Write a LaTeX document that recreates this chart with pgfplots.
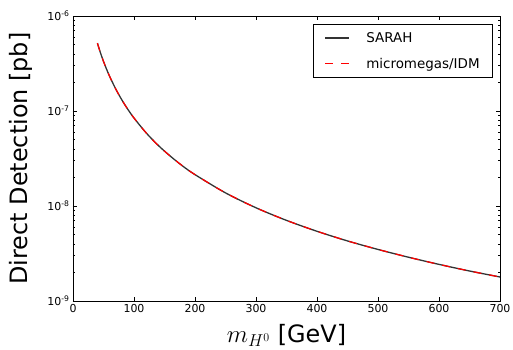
\documentclass[border=0pt]{standalone}
\usepackage{pgfplots}
\pgfplotsset{compat=1.18}
\usepackage{fontspec}
\setmainfont{DejaVu Sans}
\begin{document}
\begin{tikzpicture}
\begin{axis}[
  at={(0,0)}, anchor=south west,
  scale only axis, width=427bp, height=285bp,
  xmin=0, xmax=700, ymin=1e-9, ymax=1e-6, ymode=log,
  xtick={0,100,...,700},
  ytick={1e-9,1e-8,1e-7,1e-6},
  yticklabels={10\textsuperscript{-9},10\textsuperscript{-8},10\textsuperscript{-7},10\textsuperscript{-6}},
  /pgf/number format/assume math mode=true,
  tick label style={font=\fontsize{11}{13}\selectfont},
  tick align=inside,
  major tick length=4bp, minor tick length=2bp,
  axis line style={line width=0.9bp},
  every tick/.style={black, line width=0.6bp},
  xlabel={$m_{H^0}$ [GeV]},
  ylabel={Direct Detection [pb]},
  label style={font=\fontsize{24}{28}\selectfont},
  x label style={at={(axis description cs:0.5,-0.146)}, anchor=base},
  y label style={at={(axis description cs:-0.1077,0.5)}, anchor=base, rotate=0},
  legend style={at={(axis description cs:1,1)}, anchor=north east, xshift=-7bp, yshift=-8bp,
    font=\fontsize{13.5}{16}\selectfont, line width=0.8bp,
    inner xsep=11bp, inner ysep=6bp, row sep=10bp, cells={anchor=west}},
  legend image code/.code={\draw[#1] plot coordinates {(0bp,0.3bp) (24bp,0.3bp)};},
]
\addplot[draw=black!80, line width=1.3bp, smooth, forget plot] coordinates {
(40,5.18e-7) (45,4.10e-7) (50,3.33e-7) (55,2.76e-7) (60,2.32e-7) (70,1.709e-7)
(80,1.312e-7) (90,1.039e-7) (100,8.44e-8) (120,5.88e-8) (140,4.33e-8)
(160,3.33e-8) (180,2.63e-8) (200,2.14e-8) (250,1.375e-8) (300,9.58e-9)
(350,7.06e-9) (400,5.42e-9) (450,4.29e-9) (500,3.49e-9) (550,2.89e-9)
(600,2.43e-9) (650,2.07e-9) (700,1.79e-9)};
\addplot[draw=red, line width=1.2bp, dash pattern=on 8bp off 8bp, smooth, forget plot] coordinates {
(40,5.18e-7) (45,4.10e-7) (50,3.33e-7) (55,2.76e-7) (60,2.32e-7) (70,1.709e-7)
(80,1.312e-7) (90,1.039e-7) (100,8.44e-8) (120,5.88e-8) (140,4.33e-8)
(160,3.33e-8) (180,2.63e-8) (200,2.14e-8) (250,1.375e-8) (300,9.58e-9)
(350,7.06e-9) (400,5.42e-9) (450,4.29e-9) (500,3.49e-9) (550,2.89e-9)
(600,2.43e-9) (650,2.07e-9) (700,1.79e-9)};
\addlegendimage{draw=black!80, line width=1.4bp}
\addlegendentry{\hspace*{14bp}SARAH}
\addlegendimage{draw=red, color=red, line width=1.6bp, dash pattern=on 8bp off 8bp}
\addlegendentry{\hspace*{14bp}micromegas/IDM}
\end{axis}
\pgfresetboundingbox
\useasboundingbox (-73bp,-49bp) rectangle (440bp,301bp);
\end{tikzpicture}
\end{document}
